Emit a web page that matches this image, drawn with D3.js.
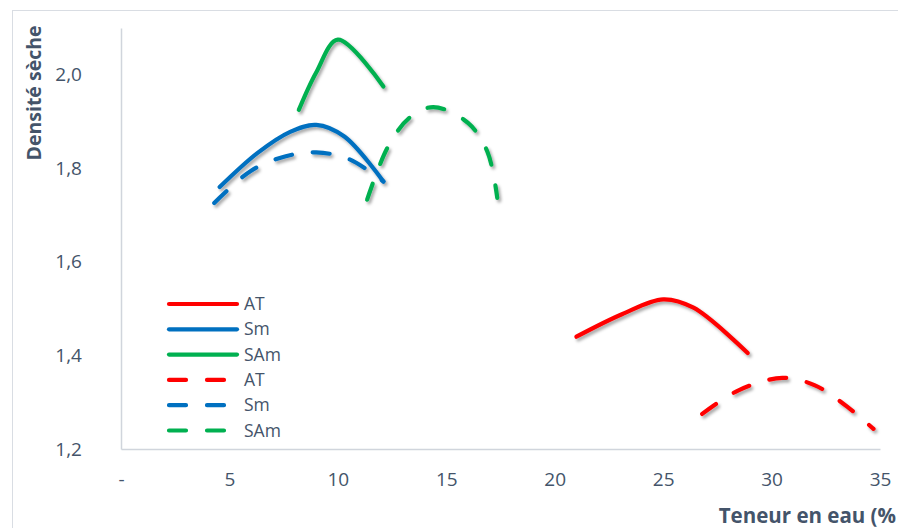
<!DOCTYPE html>
<html><head><meta charset="utf-8">
<script src="https://cdn.jsdelivr.net/npm/d3@7"></script>
<style>body{margin:0;background:#fff}svg{display:block}</style>
</head><body>
<svg id="c" width="898" height="528"></svg>
<script>
// Data (x = teneur en eau %, y = densité sèche)
const xTicks = [0, 5, 10, 15, 20, 25, 30, 35];
const yTicks = [1.2, 1.4, 1.6, 1.8, 2.0];
const legendNames = ["AT", "Sm", "SAm", "AT", "Sm", "SAm"];
const atSolid  = [[21.0,1.440],[23.1,1.488],[25.0,1.520],[26.4,1.502],[28.9,1.405]];
const smSolid  = [[4.55,1.760],[6.3,1.833],[7.8,1.878],[9.0,1.893],[10.3,1.868],[12.1,1.772]];
const samSolid = [[8.2,1.925],[9.0,2.005],[10.0,2.075],[12.1,1.975]];
const atDash   = [[26.8,1.275],[28.5,1.326],[30.5,1.352],[32.0,1.336],[33.5,1.290],[34.7,1.243]];
const smDash   = [[4.3,1.726],[6.0,1.795],[7.6,1.826],[9.0,1.834],[10.5,1.820],[12.1,1.772]];
const samDash  = [[11.35,1.733],[12.3,1.845],[13.3,1.908],[14.4,1.931],[16.0,1.897],[16.9,1.835],[17.35,1.737]];
const series = [
  {name:legendNames[0], data:atSolid,  color:"#ff0000", dashed:false},
  {name:legendNames[1], data:smSolid,  color:"#0070c0", dashed:false},
  {name:legendNames[2], data:samSolid, color:"#00b050", dashed:false},
  {name:legendNames[3], data:atDash,   color:"#ff0000", dashed:true},
  {name:legendNames[4], data:smDash,   color:"#0070c0", dashed:true},
  {name:legendNames[5], data:samDash,  color:"#00b050", dashed:true}
];

const svg = d3.select("#c");
const font = "'Open Sans', Lato, sans-serif";
const txt = "#44546a";

const defs = svg.append("defs");
const f = defs.append("filter").attr("id","sh").attr("x","-20%").attr("y","-20%").attr("width","140%").attr("height","140%");
f.append("feDropShadow").attr("dx",2).attr("dy",2.5).attr("stdDeviation",1.8).attr("flood-color","#000").attr("flood-opacity",0.35);

// chart border
svg.append("rect").attr("x",12.5).attr("y",10.5).attr("width",900).attr("height",530)
  .attr("fill","none").attr("stroke","#d9dde3").attr("stroke-width",1);

const x = d3.scaleLinear().domain([0,35]).range([121,880]);
const y = d3.scaleLinear().domain([1.2,2.1]).range([449,28]);

// axes
const xAxis = svg.append("g").attr("transform","translate(0,449)")
  .call(d3.axisBottom(x).tickValues(xTicks).tickSize(0).tickPadding(24)
    .tickFormat(d => d === 0 ? "-" : d3.format("d")(d)));
xAxis.select(".domain").attr("stroke","#d0d5dc").attr("stroke-width",1.5);
xAxis.selectAll("text").attr("fill",txt).attr("font-size",19).attr("font-family",font);

const yAxis = svg.append("g").attr("transform","translate(121,0)")
  .call(d3.axisLeft(y).tickValues(yTicks).tickSize(0).tickPadding(39)
    .tickFormat(d => d.toFixed(1).replace(".", ",")));
yAxis.select(".domain").attr("stroke","#d0d5dc").attr("stroke-width",1.5);
yAxis.selectAll("text").attr("fill",txt).attr("font-size",19).attr("font-family",font);

// axis titles
svg.append("text").attr("transform","translate(41,93) rotate(-90)")
  .attr("text-anchor","middle").attr("font-family",font).attr("font-weight","bold")
  .attr("font-size",19.5).attr("fill",txt).text("Densité sèche");
svg.append("text").attr("x",896).attr("y",523).attr("text-anchor","end")
  .attr("font-family",font).attr("font-weight","bold")
  .attr("font-size",20.5).attr("fill",txt).text("Teneur en eau (%");

// lines
const line = d3.line().x(d=>x(d[0])).y(d=>y(d[1])).curve(d3.curveCatmullRom.alpha(0.5));
svg.append("g").attr("filter","url(#sh)").selectAll("path").data(series).join("path")
  .attr("d", d=>line(d.data)).attr("fill","none").attr("stroke",d=>d.color)
  .attr("stroke-width",4.2).attr("stroke-linecap","round")
  .attr("stroke-dasharray", d=>d.dashed ? "17,21" : null);

// legend
const lg = svg.append("g");
series.forEach((s,i)=>{
  const yy = 304 + i*25.3;
  lg.append("line").attr("x1",169).attr("x2",237).attr("y1",yy).attr("y2",yy)
    .attr("stroke",s.color).attr("stroke-width",4.2).attr("stroke-linecap","round")
    .attr("stroke-dasharray", s.dashed ? "17,21" : null);
  lg.append("text").attr("x",244).attr("y",yy).attr("dy","0.35em")
    .attr("font-family",font).attr("font-size",17.5).attr("fill",txt).text(s.name);
});
</script>
</body></html>
